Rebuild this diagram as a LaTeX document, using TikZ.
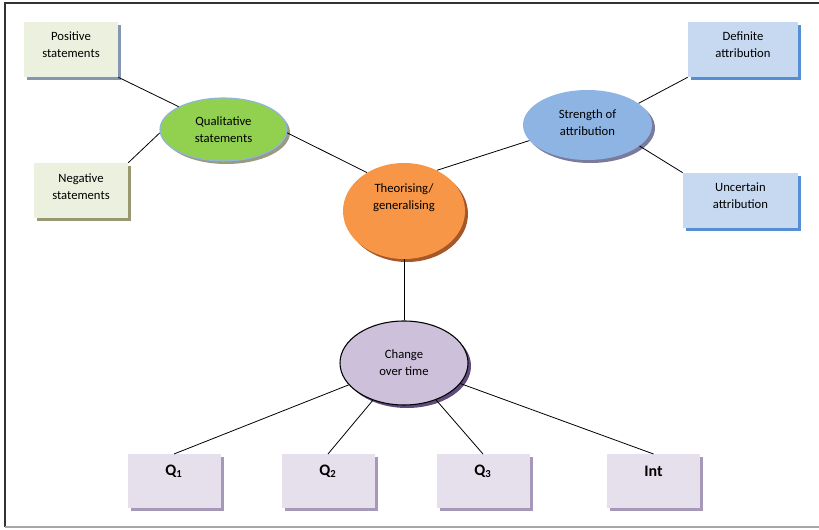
\documentclass[tikz,border=0pt]{standalone}
\usepackage{fontspec}
\setmainfont{Carlito}
\usetikzlibrary{shapes,shadows}
\definecolor{greenfill}{HTML}{EBF1DE}
\definecolor{posshadow}{HTML}{8496B0}
\definecolor{negshadow}{HTML}{9A9870}
\definecolor{qualfill}{HTML}{92D050}
\definecolor{qualline}{HTML}{8EB4E3}
\definecolor{qualshadow}{HTML}{9A9A82}
\definecolor{theofill}{HTML}{F79646}
\definecolor{theoshadow}{HTML}{A5572A}
\definecolor{strfill}{HTML}{8EB4E3}
\definecolor{strshadow}{HTML}{7A7A9C}
\definecolor{bluefill}{HTML}{C6D9F1}
\definecolor{blueshadow}{HTML}{558ED5}
\definecolor{chgfill}{HTML}{CCC0DA}
\definecolor{chgshadow}{HTML}{604A7B}
\definecolor{qfill}{HTML}{E6E0EC}
\definecolor{qshadow}{HTML}{A598B8}
\tikzset{
  txt/.style={align=center,font=\fontsize{9.5}{12.75}\selectfont,inner sep=0pt},
  qtxt/.style={font=\fontsize{12}{14}\selectfont\bfseries,inner sep=0pt},
  sbox/.style={rectangle,inner sep=0pt,minimum height=41.25pt},
  qbox/.style={sbox,fill=qfill,minimum width=69.75pt,minimum height=40.1pt,shad=qshadow},
  oval/.style={ellipse,inner sep=0pt},
  shad/.style={drop shadow={shadow xshift=2.25pt,shadow yshift=-2.25pt,fill=#1,opacity=1}},
  link/.style={line width=0.6pt}
}
\begin{document}
\begin{tikzpicture}[x=0.75pt,y=-0.75pt]
\useasboundingbox (0,0) rectangle (819,530);
% frame
\draw [line width=1.2pt,draw=black!80] (5,527) -- (5,3) -- (819,3);
\draw [line width=1.2pt,draw=black!35] (5,527) -- (819,527);
% boxes
\node [sbox,fill=greenfill,minimum width=70.5pt,shad=posshadow,label={[txt,yshift=3.75pt]center:Positive\\statements}] (pos) at (71,49.5) {};
\node [sbox,fill=greenfill,minimum width=70.5pt,shad=negshadow,label={[txt,yshift=3pt]center:Negative\\statements}] (neg) at (81,190.5) {};
\node [sbox,fill=bluefill,minimum width=82.5pt,shad=blueshadow,label={[txt,yshift=3.75pt]center:Definite\\attribution}] (def) at (743,49.5) {};
\node [sbox,fill=bluefill,minimum width=86.25pt,shad=blueshadow,label={[txt,yshift=3.75pt]center:Uncertain\\attribution}] (unc) at (740.5,200.5) {};
% ellipses
\node [oval,fill=qualfill,draw=qualline,line width=0.8pt,minimum width=95.25pt,minimum height=47.25pt,shad=qualshadow,label={[txt]center:Qualitative\\statements}] (qual) at (223.5,129.5) {};
\node [oval,fill=theofill,minimum width=91.5pt,minimum height=72pt,shad=theoshadow,label={[txt,yshift=9.75pt]center:Theorising/\\generalising}] (theo) at (404,211) {};
\node [oval,fill=strfill,minimum width=96.75pt,minimum height=52.5pt,shad=strshadow,label={[txt,yshift=2pt]center:Strength of\\attribution}] (str) at (587.5,125) {};
\node [oval,fill=chgfill,draw=black,line width=0.8pt,minimum width=96pt,minimum height=63pt,shad=chgshadow,label={[txt]center:Change\\over time}] (chg) at (404,363) {};
% bottom row
\node [qbox,label={[qtxt,yshift=7.1pt]center:Q\textsubscript{1}}] (q1) at (174,481) {};
\node [qbox,label={[qtxt,yshift=7.1pt]center:Q\textsubscript{2}}] (q2) at (328,481) {};
\node [qbox,label={[qtxt,yshift=7.1pt]center:Q\textsubscript{3}}] (q3) at (483,481) {};
\node [qbox,label={[qtxt,yshift=7.1pt]center:Int}] (qint) at (653.5,481) {};
% connectors
\draw [link] (pos.south east) -- (qual.153);
\draw [link] (neg.north east) -- (qual.183);
\draw [link] (qual.-3) -- (theo.134);
\draw [link] (theo.51) -- (str.195);
\draw [link] (str.23) -- (def.south west);
\draw [link] (str.-22) -- (unc.north west);
\draw [link] (theo.south) -- (chg.north);
\draw [link] (chg) -- (q1.north);
\draw [link] (chg) -- (q2.north);
\draw [link] (chg) -- (q3.north);
\draw [link] (chg) -- (qint.north);
\end{tikzpicture}
\end{document}
